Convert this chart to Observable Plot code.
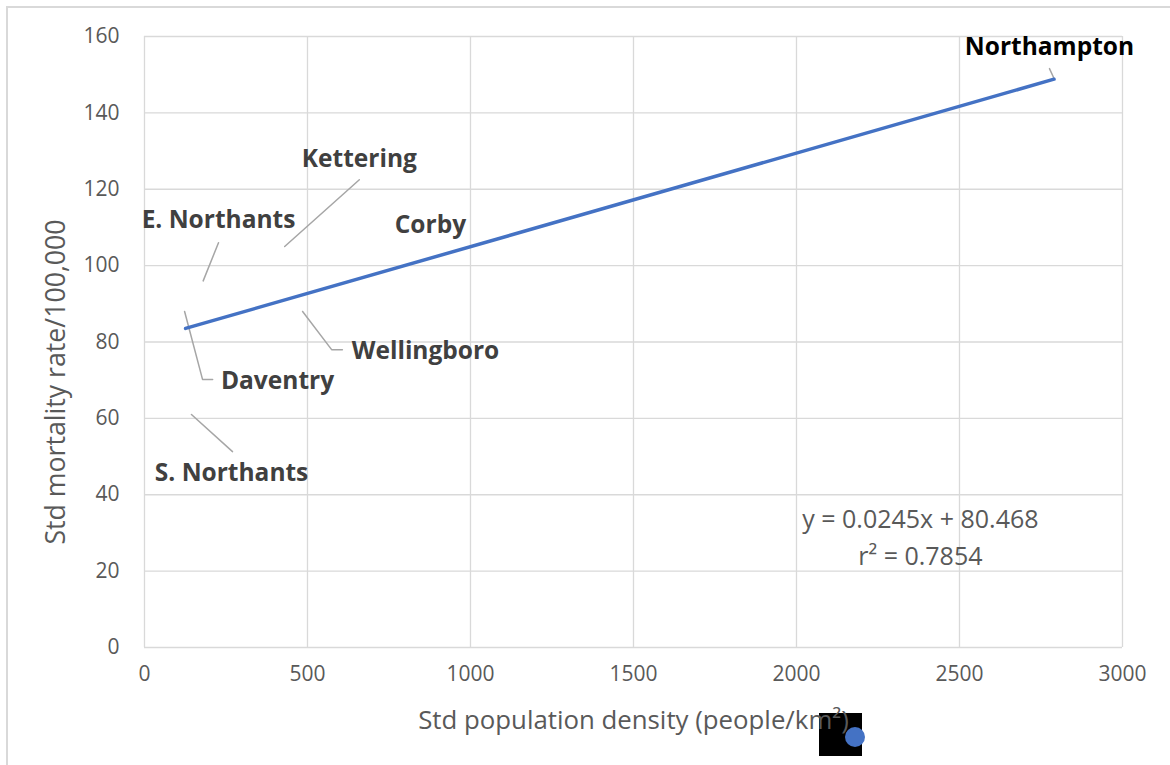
<!DOCTYPE html>
<html>
<head>
<meta charset="utf-8">
<script src="https://cdn.jsdelivr.net/npm/d3@7"></script>
<script src="https://cdn.jsdelivr.net/npm/@observablehq/plot@0.6"></script>
<style>
  html, body { margin: 0; padding: 0; background: #fff; }
  #wrap { position: relative; width: 1170px; height: 765px; overflow: hidden; font-family: "Open Sans", sans-serif; }
  #frame { position: absolute; left: 6px; top: 6px; width: 1200px; height: 800px; border: 2px solid #d9d9d9; box-sizing: border-box; }
  #chart { position: absolute; left: 0; top: 0; z-index: 2; }
  #chart svg { background: transparent !important; }
  #box { position: absolute; left: 819px; top: 713px; width: 43px; height: 43px; background: #000; z-index: 1; }
  #dot { position: absolute; left: 845px; top: 727px; width: 20px; height: 20px; border-radius: 50%; background: #4472c4; z-index: 3; }
</style>
</head>
<body>
<div id="wrap">
  <div id="frame"></div>
  <div id="box"></div>
  <div id="chart"></div>
  <div id="dot"></div>
</div>
<script>
// Districts and their (standardised) values
const districts = ["Northampton", "Kettering", "E. Northants", "Corby", "Wellingboro", "Daventry", "S. Northants"];
const density   = [2790, 430, 180, 877, 485, 123, 144];     // people/km²
const mortality = [149, 105, 96, 104, 88, 88, 61];          // per 100,000

// Label anchor points (data units) as moved in the original chart
const labelX = [2776, 659, 227, 877, 862, 408, 267];
const labelY = [157.1, 127.8, 111.8, 110.5, 77.5, 69.7, 45.6];

// Leader lines: label-side end, with an optional elbow (null = straight)
const leaderEndX = [2776, 659, 227, null, 607, 209, 270];
const leaderEndY = [151.6, 122.5, 106, null, 78, 70.2, 51.3];
const elbowX     = [null, null, null, null, 574, 178, null];
const elbowY     = [null, null, null, null, 78, 70.2, null];

// Trendline equation
const slope = 0.0245;
const intercept = 80.468;
const rSquared = 0.7854;
const trendRange = [126, 2790];

// Axes
const xTicks = [0, 500, 1000, 1500, 2000, 2500, 3000];
const yTicks = [0, 20, 40, 60, 80, 100, 120, 140, 160];

const labels = districts.map((d, i) => ({name: d, x: labelX[i], y: labelY[i]}));
const leaders = [];
districts.forEach((d, i) => {
  if (leaderEndX[i] == null) return;
  leaders.push({id: d, x: density[i], y: mortality[i]});
  if (elbowX[i] != null) leaders.push({id: d, x: elbowX[i], y: elbowY[i]});
  leaders.push({id: d, x: leaderEndX[i], y: leaderEndY[i]});
});
const trend = trendRange.map(x => ({x, y: intercept + slope * x}));

const plot = Plot.plot({
  width: 1170,
  height: 765,
  marginLeft: 144,
  marginRight: 48,
  marginTop: 36,
  marginBottom: 118,
  style: {fontFamily: "'Open Sans', sans-serif", background: "transparent", overflow: "visible"},
  x: {domain: [0, 3000], ticks: xTicks, tickSize: 0, tickPadding: 19, label: null, tickFormat: d => String(d)},
  y: {domain: [0, 160], ticks: yTicks, tickSize: 0, tickPadding: 25, label: null, tickFormat: d => String(d)},
  marks: [
    Plot.gridX(xTicks, {stroke: "#d9d9d9", strokeOpacity: 1, strokeWidth: 1.3}),
    Plot.gridY(yTicks, {stroke: "#d9d9d9", strokeOpacity: 1, strokeWidth: 1.3}),
    Plot.axisX(xTicks, {tickSize: 0, tickPadding: 19, fontSize: 21, fill: "#595959", label: null, tickFormat: d => String(d)}),
    Plot.axisY(yTicks, {tickSize: 0, tickPadding: 25, fontSize: 21, fill: "#595959", label: null, tickFormat: d => String(d)}),
    Plot.line(leaders, {x: "x", y: "y", z: "id", stroke: "#a6a6a6", strokeWidth: 1.5}),
    Plot.line(trend, {x: "x", y: "y", stroke: "#4472c4", strokeWidth: 3.5, strokeLinecap: "round"}),
    Plot.text(labels, {x: "x", y: "y", text: "name", fontSize: 24.5, fontWeight: "bold",
      fill: d => d.name === "Northampton" ? "#000000" : "#404040"}),
    Plot.text([`y = ${slope}x + ${intercept}\nr² = ${rSquared}`], {x: 2380, y: 29.5, text: d => d,
      fontSize: 25, fill: "#595959", lineHeight: 1.48, lineAnchor: "middle"}),
    Plot.text(["Std mortality rate/100,000"], {frameAnchor: "left", dx: -88, dy: 40, rotate: -90, textAnchor: "middle", text: d => d,
      fontSize: 26.7, fill: "#595959"}),
    Plot.text(["Std population density (people/km²)"], {frameAnchor: "bottom", dy: 73, textAnchor: "middle", text: d => d,
      fontSize: 25.8, fill: "#595959", lineAnchor: "middle"})
  ]
});
document.getElementById("chart").appendChild(plot);
</script>
</body>
</html>
